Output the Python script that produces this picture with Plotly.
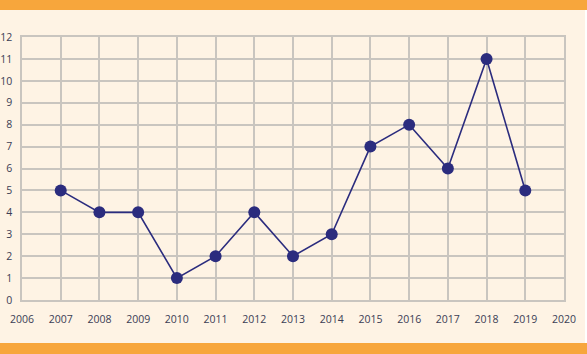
import plotly.graph_objects as go

years = [2007, 2008, 2009, 2010, 2011, 2012, 2013, 2014, 2015, 2016, 2017, 2018, 2019]
values = [5, 4, 4, 1, 2, 4, 2, 3, 7, 8, 6, 11, 5]
x_ticks = list(range(2006, 2021))
y_ticks = list(range(0, 13))

W, H = 587, 354
ml, mr, mt, mb = 22, 23, 37, 54
ph = H - mt - mb
pw = W - ml - mr

fig = go.Figure(go.Scatter(
    x=years, y=values, mode="lines+markers",
    line=dict(color="#2B2C7E", width=1.6),
    marker=dict(color="#2B2C7E", size=12),
    showlegend=False, hoverinfo="skip",
))

bg = "#FEF3E4"
orange = "#F7A63C"
grid = "#C9C5BF"
tickfont = dict(family="Open Sans, Lato, sans-serif", size=10.5, color="#3B3D55")

fig.update_layout(
    width=W, height=H,
    margin=dict(l=ml, r=mr, t=mt, b=mb, autoexpand=False),
    paper_bgcolor=bg, plot_bgcolor=bg,
    xaxis=dict(range=[2006, 2020], tickvals=x_ticks, ticktext=[str(v) for v in x_ticks],
               showgrid=True, gridcolor=grid, gridwidth=1.5, zeroline=False,
               showline=True, linecolor=grid, linewidth=1.5, mirror=True, automargin=False,
               ticks="", tickfont=tickfont, ticklabelstandoff=9, fixedrange=True),
    yaxis=dict(range=[0, 12], tickvals=y_ticks,
               showgrid=True, gridcolor=grid, gridwidth=1.5, zeroline=False,
               showline=True, linecolor=grid, linewidth=1.5, mirror=True, automargin=False,
               ticks="", tickfont=tickfont, ticklabelstandoff=6, fixedrange=True),
    shapes=[
        dict(type="rect", xref="paper", yref="paper",
             x0=-ml / pw, x1=1 + mr / pw,
             y0=1 + (mt - 10) / ph, y1=1 + mt / ph,
             fillcolor=orange, line=dict(width=0), layer="below"),
        dict(type="rect", xref="paper", yref="paper",
             x0=-ml / pw, x1=1 + mr / pw,
             y0=-mb / ph, y1=-(mb - 11) / ph,
             fillcolor=orange, line=dict(width=0), layer="below"),
        dict(type="rect", xref="paper", yref="paper",
             x0=1 + (mr - 2) / pw, x1=1 + mr / pw,
             y0=-(mb - 11) / ph, y1=1 + (mt - 10) / ph,
             fillcolor="#FFFFFF", line=dict(width=0), layer="below"),
    ],
)

fig.write_html("out.html", config={"displayModeBar": False},
               post_script="document.body.style.margin='0px';document.body.style.overflow='hidden';")
